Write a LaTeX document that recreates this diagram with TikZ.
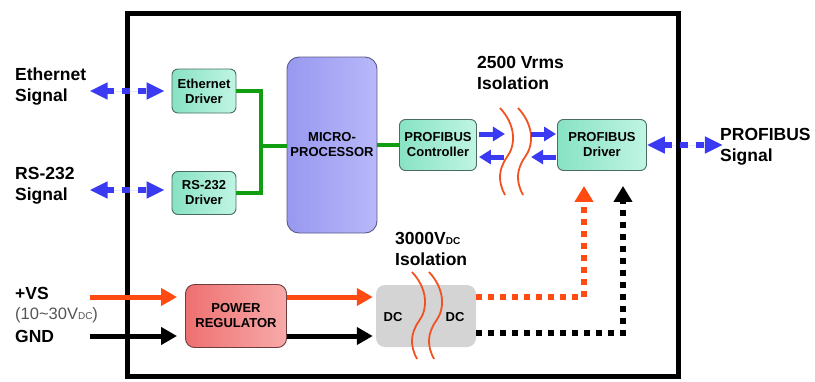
\documentclass[tikz,border=0pt]{standalone}
\usepackage{fontspec}
\setmainfont{Liberation Sans}
\usetikzlibrary{arrows.meta, positioning, calc}
\definecolor{sigblue}{HTML}{3A3AF2}
\definecolor{busgreen}{HTML}{109E10}
\definecolor{pwrred}{HTML}{FF4A12}
\definecolor{waveorange}{HTML}{F25222}
\definecolor{tealdark}{HTML}{88E2C4}
\definecolor{teallight}{HTML}{C0F5E4}
\definecolor{tealedge}{HTML}{4A6C62}
\definecolor{lavdark}{HTML}{9898F0}
\definecolor{lavlight}{HTML}{B8B8FA}
\definecolor{lavedge}{HTML}{5A5A88}
\definecolor{regdark}{HTML}{EE7070}
\definecolor{reglight}{HTML}{F8AAAA}
\definecolor{regedge}{HTML}{6E3E3E}
\definecolor{dcgray}{HTML}{D4D4D4}
\definecolor{rangegray}{HTML}{555555}

\begin{document}
\begin{tikzpicture}[
    x=1pt, y=-1pt,
    % ── shared styles ──
    outer label/.style={font=\bfseries\fontsize{17.5}{21}\selectfont,
        align=left, inner sep=0pt},
    box label/.style={font=\bfseries\fontsize{13}{15}\selectfont},
    drv box/.style={draw=tealedge, line width=0.9pt, rounded corners=6pt,
        left color=tealdark, right color=teallight, align=center,
        inner sep=1pt, box label, minimum width=#1},
    cpu box/.style={draw=lavedge, line width=0.9pt, rounded corners=12pt,
        left color=lavdark, right color=lavlight, align=center,
        inner sep=1pt, box label, minimum width=90pt, minimum height=176pt},
    reg box/.style={draw=regedge, line width=0.9pt, rounded corners=9pt,
        left color=regdark, right color=reglight, align=center,
        inner sep=1pt, box label, minimum width=101pt, minimum height=63pt},
    dc box/.style={fill=dcgray, rounded corners=9pt,
        minimum width=100pt, minimum height=62pt},
    frame line/.style={draw=black, line width=5pt},
    bus line/.style={draw=busgreen, line width=4pt},
    sig arrow/.style={{Triangle[length=18pt,width=16pt]}-{Triangle[length=18pt,width=16pt]},
        draw=sigblue, fill=sigblue, line width=6pt, dash pattern=on 8pt off 8pt},
    link arrow/.style={-{Triangle[length=12pt,width=14pt]}, draw=sigblue,
        fill=sigblue, line width=5pt},
    pwr arrow/.style={-{Triangle[length=16pt,width=17pt]}, line width=5pt},
    feed arrow/.style={-{Triangle[length=16pt,width=18pt]}, line width=6pt,
        dash pattern=on 6pt off 6pt},
    iso wave/.style={draw=waveorange, line width=1.8pt},
    squiggle/.pic={
        \draw[iso wave] (0,0) .. controls (16,17) and (16,37) .. (7,49)
            .. controls (-2,62) and (-2,74) .. (5,87);
    },
]
\useasboundingbox (0,0) rectangle (815,381);

% ══════════════════════════════════════════════════════════════════════
%  MODULE FRAME
% ══════════════════════════════════════════════════════════════════════
\draw[frame line] (127,13) rectangle (678,376);

% ══════════════════════════════════════════════════════════════════════
%  BLOCKS
% ══════════════════════════════════════════════════════════════════════
\node[drv box=64pt, minimum height=44pt] (ethdrv) at (204,91) {Ethernet\\Driver};
\node[drv box=64pt, minimum height=43pt] (rsdrv) at (204,193) {RS-232\\Driver};
\node[cpu box] (micro) at (332,145) {MICRO-\\PROCESSOR};
\node[drv box=77pt, minimum height=51pt] (pctrl) at (438,145) {PROFIBUS\\Controller};
\node[drv box=89pt, minimum height=51pt] (pdrv) at (602,145) {PROFIBUS\\Driver};
\node[reg box] (power) at (236,316) {POWER\\REGULATOR};
\node[dc box] (dcbox) at (426,316) {};
\node[box label] (dcin) at (393,317) {DC};
\node[box label] (dcout) at (455,317) {DC};

% ══════════════════════════════════════════════════════════════════════
%  OUTSIDE SIGNALS + ISOLATION LABELS
% ══════════════════════════════════════════════════════════════════════
\node[outer label, anchor=west] (ethsig) at (15,87) {Ethernet\\Signal};
\node[outer label, anchor=west] (rssig) at (15,186) {RS-232\\Signal};
\node[outer label, anchor=west] (profsig) at (720,147) {PROFIBUS\\Signal};
\node[outer label, anchor=west] (iso2500) at (477,73) {2500 Vrms\\Isolation};
\node[outer label, anchor=west] (iso3000) at (395,249)
    {3000V{\fontsize{10}{10}\selectfont DC}\\Isolation};
\node[outer label, anchor=west] (vslbl) at (15,293) {+VS};
\node[outer label, anchor=west, font=\fontsize{16.5}{20}\selectfont,
    text=rangegray] (rangelbl) at (15,315)
    {(10\textasciitilde30V{\fontsize{10}{10}\selectfont DC})};
\node[outer label, anchor=west] (gndlbl) at (15,336) {GND};

\coordinate (vsin) at (90,297);
\coordinate (gndin) at (90,336);
\coordinate (bus) at (261,146);

% ══════════════════════════════════════════════════════════════════════
%  ISOLATION BARRIERS
% ══════════════════════════════════════════════════════════════════════
\pic at (500,108) {squiggle};
\pic at (518,108) {squiggle};
\pic at (412,272) {squiggle};
\pic at (429,272) {squiggle};

% ══════════════════════════════════════════════════════════════════════
%  CONNECTORS
% ══════════════════════════════════════════════════════════════════════
\draw[bus line] (ethdrv.east) -| (bus) |- (rsdrv.east);
\draw[bus line] (bus) -- (bus -| micro.west);
\draw[bus line] (micro.east |- pctrl.west) -- (pctrl.west);

\draw[sig arrow, shorten >=7pt] ([xshift=-82pt]ethdrv.west) -- (ethdrv.west);
\draw[sig arrow, shorten >=7pt] ([xshift=-82pt,yshift=3pt]rsdrv.west)
    -- ([yshift=3pt]rsdrv.west);
\draw[sig arrow] (pdrv.east) -- ++(76,0);

\draw[link arrow] ([xshift=2pt,yshift=11pt]pctrl.east) -- ++(26,0);
\draw[link arrow] ([xshift=-26pt,yshift=11pt]pdrv.west) -- ([xshift=-1pt,yshift=11pt]pdrv.west);
\draw[link arrow] ([xshift=27pt,yshift=-12pt]pctrl.east) -- ([xshift=2pt,yshift=-12pt]pctrl.east);
\draw[link arrow] ([xshift=-1pt,yshift=-12pt]pdrv.west) -- ++(-25,0);

\draw[pwr arrow, pwrred, shorten >=8pt] (vsin) -- (vsin -| power.west);
\draw[pwr arrow, black, shorten >=8pt] (gndin) -- (gndin -| power.west);
\draw[pwr arrow, pwrred, shorten >=3pt] (power.east |- vsin) -- (vsin -| dcbox.west);
\draw[pwr arrow, black, shorten >=3pt] (power.east |- gndin) -- (gndin -| dcbox.west);

\draw[feed arrow, pwrred] (dcbox.east |- vsin)
    -| ([xshift=-18pt,yshift=-15pt]pdrv.south);
\draw[feed arrow, black] ([yshift=-17pt]dcbox.east)
    -| ([xshift=21pt,yshift=-15pt]pdrv.south);

\end{tikzpicture}
\end{document}
